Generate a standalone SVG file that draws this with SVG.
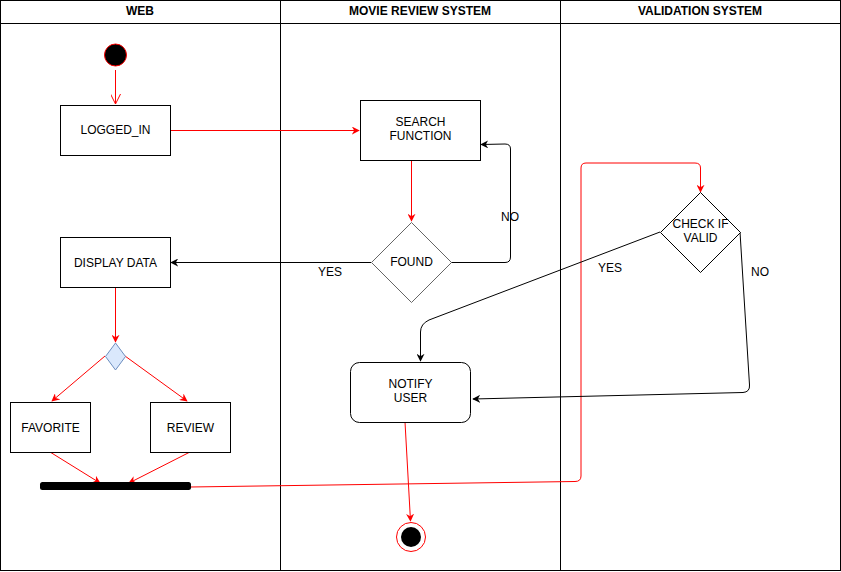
<svg xmlns="http://www.w3.org/2000/svg" width="841" height="572" viewBox="0 0 841 572">
<style>
text{font-family:"Liberation Sans",Arial,sans-serif;font-size:12px;fill:#000;text-anchor:middle}
.h{font-weight:bold}
.box{fill:#fff;stroke:#000;stroke-width:1}
.red{fill:none;stroke:#ff0000;stroke-width:1}
.blk{fill:none;stroke:#000;stroke-width:1}
</style>
<defs>
<marker id="ar" viewBox="0 0 10 10" refX="9" refY="5" markerWidth="8" markerHeight="8" markerUnits="userSpaceOnUse" orient="auto"><path d="M0,0 L10,5 L0,10 L3,5 Z" fill="#ff0000"/></marker>
<marker id="ab" viewBox="0 0 10 10" refX="9" refY="5" markerWidth="8" markerHeight="8" markerUnits="userSpaceOnUse" orient="auto"><path d="M0,0 L10,5 L0,10 L3,5 Z" fill="#000"/></marker>
<marker id="ao" viewBox="0 0 10 10" refX="10" refY="5" markerWidth="10" markerHeight="10" markerUnits="userSpaceOnUse" orient="auto"><path d="M0,0 L10,5 L0,10" fill="none" stroke="#ff0000"/></marker>
</defs>
<rect width="841" height="572" fill="#fff"/>
<g id="lanes">
<rect x="0.5" y="0.5" width="840" height="570" fill="none" stroke="#000"/>
<line x1="0" y1="23.5" x2="841" y2="23.5" stroke="#000"/>
<line x1="280.5" y1="0" x2="280.5" y2="571" stroke="#000"/>
<line x1="560.5" y1="0" x2="560.5" y2="571" stroke="#000"/>
<text class="h" x="140" y="15">WEB</text>
<text class="h" x="420" y="15">MOVIE REVIEW SYSTEM</text>
<text class="h" x="700" y="15">VALIDATION SYSTEM</text>
</g>
<g id="connectors">
<path class="red" d="M115.5,70 L115.5,104" marker-end="url(#ao)"/>
<path class="red" d="M170,130.5 L359,130.5" marker-end="url(#ar)"/>
<path class="red" d="M411.5,160 L411.5,221" marker-end="url(#ar)"/>
<path class="blk" d="M451,262.5 L505,262.5 Q510.5,262.5 510.5,257 L510.5,149 Q510.5,144 505,144 L481,144.5" marker-end="url(#ab)"/>
<text x="510" y="221">NO</text>
<path class="blk" d="M371,262.5 L171,262.5" marker-end="url(#ab)"/>
<text x="330" y="276">YES</text>
<path class="red" d="M115.5,287 L115.5,342" marker-end="url(#ar)"/>
<path class="red" d="M105,356 L52,401" marker-end="url(#ar)"/>
<path class="red" d="M125,356 L187,401" marker-end="url(#ar)"/>
<path class="red" d="M50,452 L100,483" marker-end="url(#ar)"/>
<path class="red" d="M190,452 L129,483" marker-end="url(#ar)"/>
<path class="red" d="M190,487 L575,481.5 Q581,481.5 581,476 L581,168 Q581,163 586,163 L695,163 Q700.5,163 700.5,168 L700.5,192" marker-end="url(#ar)"/>
<path class="blk" d="M660,232 L429,320 Q420.5,324 420.5,332 L420.5,361" marker-end="url(#ab)"/>
<text x="610" y="272">YES</text>
<path class="blk" d="M740,232 L749.5,385 Q750,392 743,392.5 L473,399" marker-end="url(#ab)"/>
<text x="760" y="276">NO</text>
<path class="red" d="M405,422 L410.5,521" marker-end="url(#ar)"/>
</g>
<g id="start"><circle cx="115.5" cy="55" r="11" fill="#000" stroke="#ff0000"/></g>
<g id="logged_in"><rect class="box" x="60.5" y="105.5" width="110" height="50"/><text x="115.5" y="134">LOGGED_IN</text></g>
<g id="search"><rect class="box" x="360.5" y="100.5" width="120" height="60"/><text x="420.5" y="126">SEARCH</text><text x="420.5" y="140">FUNCTION</text></g>
<g id="found"><path d="M411.5,222.5 L451.5,262.5 L411.5,302.5 L371.5,262.5 Z" fill="#fff" stroke="#666"/><text x="411.5" y="266">FOUND</text></g>
<g id="display"><rect class="box" x="60.5" y="237.5" width="110" height="50"/><text x="115.5" y="267">DISPLAY DATA</text></g>
<g id="fork"><path d="M115.5,343 L125.5,356.5 L115.5,370 L105.5,356.5 Z" fill="#dae8fc" stroke="#6c8ebf"/></g>
<g id="favorite"><rect class="box" x="10.5" y="402.5" width="80" height="50"/><text x="50.5" y="432">FAVORITE</text></g>
<g id="review"><rect class="box" x="150.5" y="402.5" width="80" height="50"/><text x="190.5" y="432">REVIEW</text></g>
<g id="join"><rect x="40" y="482" width="151" height="8" rx="2.5" fill="#000"/></g>
<g id="check"><path d="M700.5,192.5 L740.5,232.5 L700.5,272.5 L660.5,232.5 Z" fill="#fff" stroke="#000"/><text x="700.5" y="228">CHECK IF</text><text x="700.5" y="242">VALID</text></g>
<g id="notify"><rect class="box" x="350.5" y="362.5" width="120" height="60" rx="9"/><text x="410.5" y="388">NOTIFY</text><text x="410.5" y="402">USER</text></g>
<g id="end"><circle cx="411" cy="537" r="14.5" fill="#fff" stroke="#ff0000"/><circle cx="411" cy="537" r="10" fill="#000"/></g>
</svg>
